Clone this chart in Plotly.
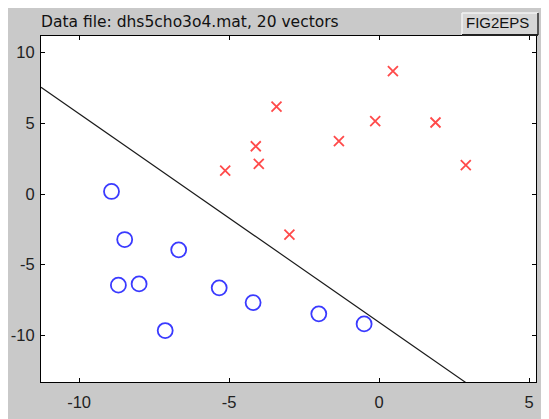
import plotly.graph_objects as go

# Class 1 (circles)
circle_x = [-8.92, -8.48, -6.68, -8.69, -8.00, -5.33, -4.20, -7.13, -2.01, -0.50]
circle_y = [0.18, -3.22, -3.95, -6.45, -6.36, -6.64, -7.68, -9.66, -8.48, -9.19]

# Class 2 (crosses)
cross_x = [0.46, -3.42, -0.13, 1.88, -1.34, -4.11, -4.01, -5.13, 2.89, -2.99]
cross_y = [8.69, 6.19, 5.15, 5.06, 3.74, 3.38, 2.14, 1.66, 2.04, -2.87]

# Decision boundary
line_x = [-11.27, 2.91]
line_y = [7.56, -13.37]

x_ticks = [-10, -5, 0, 5]
y_ticks = [-10, -5, 0, 5, 10]
x_range = [-11.27, 5.23]
y_range = [-13.3, 11.18]

title_text = "Data file: dhs5cho3o4.mat, 20 vectors"
button_text = "FIG2EPS"

OFF = 8  # page body margin
W, H = 541, 411
L, T = 33, 28
R = W - (536 - OFF)
B = H - (382 - OFF)
pw, ph = W - L - R, H - T - B

def px(xpage):
    return (xpage - OFF - L) / pw

def py(ypage):
    return (H - B - (ypage - OFF)) / ph

fig = go.Figure()
fig.add_trace(go.Scatter(x=line_x, y=line_y, mode="lines",
                         line=dict(color="#1a1a1a", width=1.2),
                         hoverinfo="skip", showlegend=False))
fig.add_trace(go.Scatter(x=circle_x, y=circle_y, mode="markers",
                         marker=dict(symbol="circle-open", size=15,
                                     color="#3a3aff", line=dict(width=1.8, color="#3a3aff")),
                         showlegend=False))
fig.add_trace(go.Scatter(x=cross_x, y=cross_y, mode="markers",
                         marker=dict(symbol="x-thin-open", size=10,
                                     color="#ff4a4a", line=dict(width=1.8, color="#ff4a4a")),
                         showlegend=False))

axis_common = dict(showgrid=False, zeroline=False, showline=True, linecolor="black",
                   linewidth=1, mirror="allticks", ticks="inside", ticklen=4,
                   tickcolor="black", automargin=False,
                   tickfont=dict(family="Liberation Sans, Arial, sans-serif", size=16.5, color="#222222"))

fig.update_xaxes(range=x_range, tickvals=x_ticks, ticktext=[str(v) for v in x_ticks],
                 ticklabelstandoff=5, **axis_common)
fig.update_yaxes(range=y_range, tickvals=y_ticks, ticktext=[str(v) for v in y_ticks],
                 ticklabelstandoff=2, **axis_common)

# FIG2EPS button (page coordinates)
bx0, bx1, by0, by1 = 462, 538, 13, 35
shapes = [
    dict(type="rect", xref="paper", yref="paper", x0=px(bx0), x1=px(bx1), y0=py(by1), y1=py(by0),
         fillcolor="#d6d6d6", line=dict(width=0), layer="above"),
    dict(type="line", xref="paper", yref="paper", x0=px(bx0), x1=px(bx1), y0=py(by0), y1=py(by0),
         line=dict(color="#f2f2f2", width=1.5), layer="above"),
    dict(type="line", xref="paper", yref="paper", x0=px(bx0), x1=px(bx0), y0=py(by1), y1=py(by0),
         line=dict(color="#f2f2f2", width=1.5), layer="above"),
    dict(type="line", xref="paper", yref="paper", x0=px(bx1), x1=px(bx1), y0=py(by1), y1=py(by0),
         line=dict(color="#555555", width=2), layer="above"),
    dict(type="line", xref="paper", yref="paper", x0=px(bx0), x1=px(bx1), y0=py(by1), y1=py(by1),
         line=dict(color="#222222", width=2), layer="above"),
]

annotations = [
    dict(text=title_text, xref="paper", yref="paper", x=px(39), y=py(22), xanchor="left",
         yanchor="middle", showarrow=False,
         font=dict(family="DejaVu Sans, sans-serif", size=15.5, color="#111111")),
    dict(text=button_text, xref="paper", yref="paper", x=px(497), y=py(23),
         xanchor="center", yanchor="middle", showarrow=False,
         font=dict(family="Liberation Sans, Arial, sans-serif", size=15, color="#111111")),
]

fig.update_layout(width=W, height=H, margin=dict(l=L, r=R, t=T, b=B, pad=0),
                  paper_bgcolor="#c9c9c9", plot_bgcolor="white",
                  shapes=shapes, annotations=annotations, showlegend=False)

fig.write_html("out.html")
